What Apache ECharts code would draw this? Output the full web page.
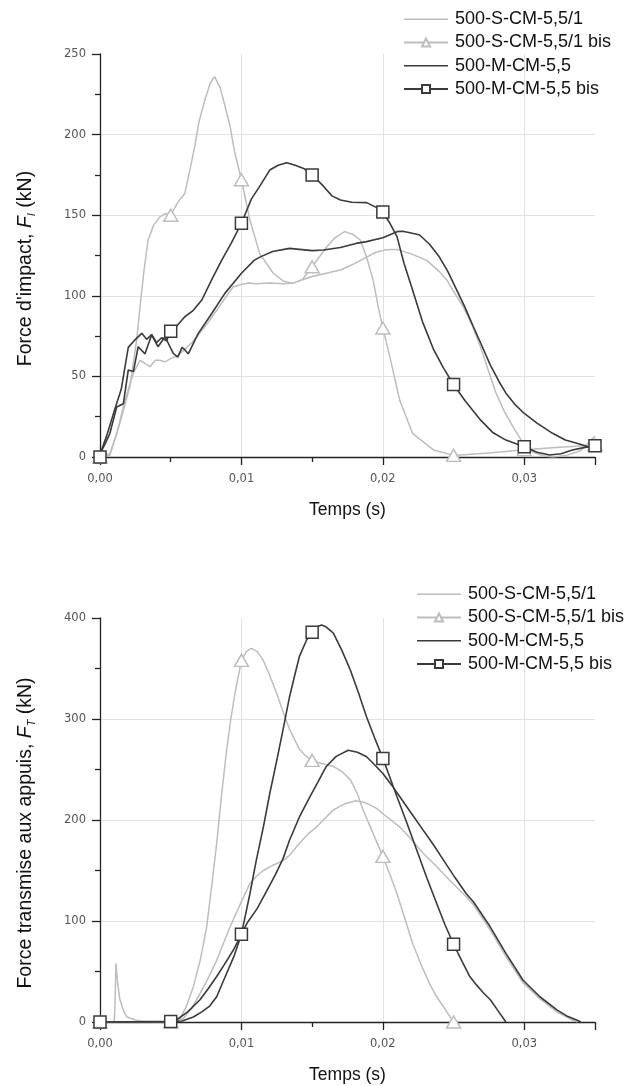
<!DOCTYPE html>
<html>
<head>
<meta charset="utf-8">
<script src="https://cdn.jsdelivr.net/npm/echarts@6/dist/echarts.min.js"></script>
<style>
  html, body { margin: 0; padding: 0; background: #fff; }
  #chart { width: 629px; height: 1086px; }
</style>
</head>
<body>
<div id="chart"></div>
<script>
// Series names (legend)
const seriesNames = ['500-S-CM-5,5/1', '500-S-CM-5,5/1 bis', '500-M-CM-5,5', '500-M-CM-5,5 bis'];

// ---- Top chart: Force d'impact (kN) vs time (ms) ----
const topS1 = [[0,0],[0.7,2],[1.2,15],[1.65,31],[2.0,42],[2.36,52],[2.83,60],[3.2,58],[3.53,56],[3.9,60],[4.24,60],[4.6,59],[5,61],[5.5,63],[5.9,66],[6.5,71],[7.07,77],[7.6,83],[8.25,91],[8.8,98],[9.42,105.6],[10,107],[10.5,108],[11,107.5],[12,108],[13,107.5],[13.7,108],[14.3,110],[15,112],[16,114],[17,116],[18,120],[18.85,124],[19.5,127],[20.2,128.5],[21,128.8],[22,126],[23.1,122],[24,115],[24.5,110],[25.2,100],[25.7,93],[26.3,82],[26.9,68.4],[27.6,50],[28.0,39.7],[28.6,28],[29.2,18.8],[30,7.4],[30.6,3],[31.3,0.8],[32,0],[33,1],[34,4],[35,13]];
const topS2 = [[0,0],[0.7,1],[1.41,21],[2.12,44],[2.6,73],[2.83,93],[3.1,115],[3.4,134.6],[3.8,144],[4.24,149],[4.6,151],[5,150],[5.5,158],[6,163.5],[6.4,180],[6.7,192.5],[7,208],[7.4,221],[7.8,232],[8.1,236],[8.5,229],[8.8,219],[9.2,205],[9.5,190],[10,172],[10.6,147],[11.3,126],[12.25,114],[13,109],[13.66,107.7],[14.3,110],[15,118],[15.5,124],[16,130],[16.6,136],[17.3,139.8],[17.9,138],[18.4,134.6],[18.85,124],[19.3,110],[19.7,92],[20,80],[20.5,62],[21.2,35],[22.1,14.7],[23.6,4.3],[25,1],[27.5,2.5],[30,4.5],[32.5,6],[35,7.5]];
const topM1 = [[0,2],[0.35,8],[0.7,14.7],[1.18,31],[1.65,33],[2,54],[2.36,53],[2.7,68.4],[3.18,64],[3.65,75.7],[4.1,68.4],[4.6,74.6],[5.18,64.3],[5.5,62],[5.8,68],[6,66.4],[6.24,64],[6.95,76.7],[7.9,89],[8.83,101.5],[10,114],[10.9,122],[11.3,124],[12.2,127.5],[13.4,129.4],[14.1,128.8],[15,128],[15.8,128.4],[17,130],[18.1,132.5],[18.85,133.6],[20,136],[21,139.8],[21.4,140],[22,139],[22.6,137.7],[23.3,132],[24,124],[24.6,115],[25.2,104],[25.8,93],[26.4,80.8],[27,69],[27.6,57],[28.2,47],[28.7,39.6],[29.3,33],[30,27],[30.9,21],[32,14.7],[32.9,10.5],[33.9,8],[35,5]];
const topM2 = [[0,0],[0.1,4],[0.5,14],[1.06,30],[1.5,42],[2,68],[2.4,72],[2.95,76.7],[3.3,73],[3.65,76],[4,71],[4.36,74],[4.7,72],[5,78],[5.5,82],[6,87],[6.6,91],[7.2,97.4],[7.9,110],[8.6,122],[9.3,133],[10,145],[10.7,160],[11.3,168],[12,178],[12.6,181],[13.2,182.6],[13.8,181],[14.4,179],[15,175],[15.8,168],[16.4,162],[17,159.4],[17.8,158],[18.85,157.8],[19.5,155],[20,152],[20.5,145],[21,136.7],[21.5,120],[22.1,103.6],[22.8,84],[23.6,66.4],[24.3,55],[25,45],[25.8,35],[26.9,23],[27.8,15],[28.7,10.5],[30,6.4],[30.9,3],[31.8,1.2],[32.6,2],[33.4,4.3],[34.2,5.8],[35,7]];

// ---- Bottom chart: Force transmise aux appuis (kN) vs time (ms) ----
const botS1 = [[0,0],[1,0],[1.05,12],[1.13,58],[1.25,38],[1.41,22],[1.7,10],[1.9,5],[2.5,2],[3,1],[4,1],[5,0.5],[5.5,1],[5.9,3.7],[6.5,14],[7.07,28],[7.6,42],[8.25,61],[8.7,77],[9.19,94],[9.94,117.5],[10.6,137],[11.1,145],[11.55,150],[12.2,155],[12.95,160],[13.4,165],[14.1,177],[14.7,186],[15.3,193],[16,203],[16.5,210],[17.3,216],[18.1,219],[18.8,217],[19.55,211.5],[20.3,203],[21.2,193],[22,181],[22.85,167],[23.8,154],[24.7,140.6],[25.9,124],[26.4,116],[27.6,91],[28.7,65],[29.9,39],[31.1,23],[32.3,10],[33.4,2],[33.8,0]];
const botS2 = [[0,0],[2.5,0],[5,0],[5.65,3.7],[6.1,15],[6.6,35],[7.1,62],[7.54,94],[7.9,135],[8.25,177],[8.6,225],[8.95,269],[9.25,300],[9.54,325],[10,358],[10.35,367],[10.7,370],[11.1,367],[11.55,358],[12,343],[12.5,325],[13,305],[13.4,290],[14.1,270],[14.5,264],[15,259],[15.7,256],[16.5,253],[17.1,248],[17.7,240],[18.2,226],[18.6,210],[19.3,187],[20,164],[20.5,146],[21,127],[21.5,105],[22.1,78],[22.7,57],[23.3,38],[23.8,25],[24.3,15],[24.7,6],[25,0]];
const botM1 = [[0,0],[5,0],[5.4,2],[6.2,10],[7.07,22],[7.6,32],[8.25,45],[8.8,57],[9.42,71],[9.9,84],[10.4,98],[11.1,112],[11.8,130],[12.4,146],[12.95,162],[13.4,180],[14.1,203],[14.84,223],[15.5,240],[16,253],[16.7,263],[17.55,269],[18.2,267],[18.85,262.6],[19.4,255],[20,246],[20.6,235],[21.2,223],[22,207],[22.85,190],[23.6,175],[24.3,160],[25.1,143],[25.9,127],[26.4,119],[27.6,94],[28.7,68],[29.9,41.6],[31.1,25],[32.3,12],[33,6],[33.7,2],[34,0]];
const botM2 = [[0,0],[5,0.5],[5.8,1],[6.6,5],[7.2,10],[7.77,16],[8.25,25],[8.95,48],[9.5,66],[10,87],[10.6,127],[11.05,160],[11.55,193],[12,226],[12.5,259],[12.95,290],[13.4,322],[13.8,345],[14.1,362],[14.6,378],[15,386],[15.3,391],[15.67,393],[16,391],[16.5,385],[17.1,368],[17.7,348.5],[18.3,325],[18.85,302],[19.4,282],[20,261],[20.5,242],[21,223],[21.7,197],[22.4,170],[23.1,143],[23.8,117.5],[24.4,96],[25,77],[25.6,60],[26.15,45],[26.6,37],[27.1,29],[27.6,22],[28.1,12],[28.6,2],[28.7,0]];

// Axis settings
const xTickLabels = ['0,00', '0,01', '0,02', '0,03'];
const topYTitle = "Force d'impact, {f|F}{s|I} (kN)";
const botYTitle = "Force transmise aux appuis, {f|F}{s|T} (kN)";
const xTitle = 'Temps (s)';

const LIGHT = '#bdbdbd';
const DARK = '#3a3a3a';
const AXIS = '#222';

function build(arr, marker) {
  return arr.map(function (p) {
    const item = { value: [p[0] / 1000, p[1]] };
    if (!(marker && p[0] % 5 === 0)) item.symbol = 'none';
    return item;
  });
}

function xAxisCfg(gi) {
  return {
    type: 'value', gridIndex: gi, min: 0, max: 0.035, interval: 0.01,
    axisLine: { show: true, onZero: false, lineStyle: { color: AXIS, width: 1.3 } },
    axisTick: { show: true, inside: false, length: 8, lineStyle: { color: AXIS, width: 1.3 } },
    minorTick: { show: true, splitNumber: 2, length: 5, lineStyle: { color: AXIS, width: 1.3 } },
    splitLine: { show: true, showMinLine: false, showMaxLine: false, lineStyle: { color: '#e2e2e2', width: 1 } },
    axisLabel: {
      fontFamily: 'DejaVu Sans', fontSize: 11.5, color: '#555', margin: 16,
      formatter: function (v) {
        const k = Math.round(v * 100);
        if (Math.abs(v * 100 - k) > 1e-6) return '';
        return xTickLabels[k] || '';
      }
    },
    name: xTitle, nameLocation: 'middle', nameGap: 44,
    nameTextStyle: { fontFamily: 'Liberation Sans', fontSize: 17.5, color: '#111' }
  };
}

function yAxisCfg(gi, max, interval, title) {
  return {
    type: 'value', gridIndex: gi, min: 0, max: max, interval: interval,
    axisLine: { show: true, lineStyle: { color: AXIS, width: 1.3 } },
    axisTick: { show: true, inside: false, length: 8, lineStyle: { color: AXIS, width: 1.3 } },
    minorTick: { show: true, splitNumber: 2, length: 5, lineStyle: { color: AXIS, width: 1.3 } },
    splitLine: { show: true, showMinLine: false, showMaxLine: false, lineStyle: { color: '#e2e2e2', width: 1 } },
    axisLabel: { fontFamily: 'DejaVu Sans', fontSize: 11.5, color: '#555', margin: 14 },
    name: title, nameLocation: 'middle', nameGap: 63, nameRotate: 90,
    nameTextStyle: {
      fontFamily: 'Liberation Sans', fontSize: 19.5, color: '#111', lineHeight: 23,
      padding: [0, 26, 0, 0],
      rich: {
        f: { fontFamily: 'Liberation Sans', fontSize: 19.5, fontStyle: 'italic', color: '#111', lineHeight: 23 },
        s: { fontFamily: 'Liberation Sans', fontSize: 11, fontStyle: 'italic', color: '#111', verticalAlign: 'bottom', lineHeight: 11 }
      }
    }
  };
}

function seriesFor(gi, arrs) {
  return [
    { name: seriesNames[0], type: 'line', xAxisIndex: gi, yAxisIndex: gi, data: build(arrs[0], false),
      symbol: 'none', lineStyle: { color: LIGHT, width: 1.5 }, itemStyle: { color: LIGHT }, z: 2 },
    { name: seriesNames[1], type: 'line', xAxisIndex: gi, yAxisIndex: gi, data: build(arrs[1], true),
      symbol: 'triangle', symbolSize: [14, 12], showSymbol: true, showAllSymbol: true,
      lineStyle: { color: LIGHT, width: 1.5 }, itemStyle: { color: '#fff', borderColor: LIGHT, borderWidth: 1.5 }, z: 3 },
    { name: seriesNames[2], type: 'line', xAxisIndex: gi, yAxisIndex: gi, data: build(arrs[2], false),
      symbol: 'none', lineStyle: { color: DARK, width: 1.6 }, itemStyle: { color: DARK }, z: 4 },
    { name: seriesNames[3], type: 'line', xAxisIndex: gi, yAxisIndex: gi, data: build(arrs[3], true),
      symbol: 'rect', symbolSize: 12, showSymbol: true, showAllSymbol: true,
      lineStyle: { color: DARK, width: 1.6 }, itemStyle: { color: '#fff', borderColor: DARK, borderWidth: 1.5 }, z: 5 }
  ];
}

const lineIcon = 'path://M0,0L0.01,0L0,0.01ZM0,4.25L44,4.25L44,5.75L0,5.75ZM44,10L43.99,10L44,9.99Z';
const legendData = [
  { name: seriesNames[0], icon: lineIcon, itemStyle: { color: LIGHT } },
  { name: seriesNames[1] },
  { name: seriesNames[2], icon: lineIcon, itemStyle: { color: DARK } },
  { name: seriesNames[3] }
];
function legendCfg(left, top) {
  return {
    orient: 'vertical', left: left, top: top, itemWidth: 44, itemHeight: 10, itemGap: 5,
    selectedMode: false, data: legendData,
    textStyle: { fontFamily: 'Liberation Sans', fontSize: 18, color: '#111', lineHeight: 18.3, padding: [0, 0, 0, 2] }
  };
}

const chart = echarts.init(document.getElementById('chart'), null, { renderer: 'canvas' });
chart.setOption({
  animation: false,
  backgroundColor: '#fff',
  legend: [legendCfg(398, 5), legendCfg(411, 580)],
  grid: [
    { left: 100, top: 54, width: 495, height: 403 },
    { left: 100, top: 618, width: 495, height: 404 }
  ],
  xAxis: [xAxisCfg(0), xAxisCfg(1)],
  yAxis: [yAxisCfg(0, 250, 50, topYTitle), yAxisCfg(1, 400, 100, botYTitle)],
  series: seriesFor(0, [topS1, topS2, topM1, topM2]).concat(seriesFor(1, [botS1, botS2, botM1, botM2]))
});
</script>
</body>
</html>
